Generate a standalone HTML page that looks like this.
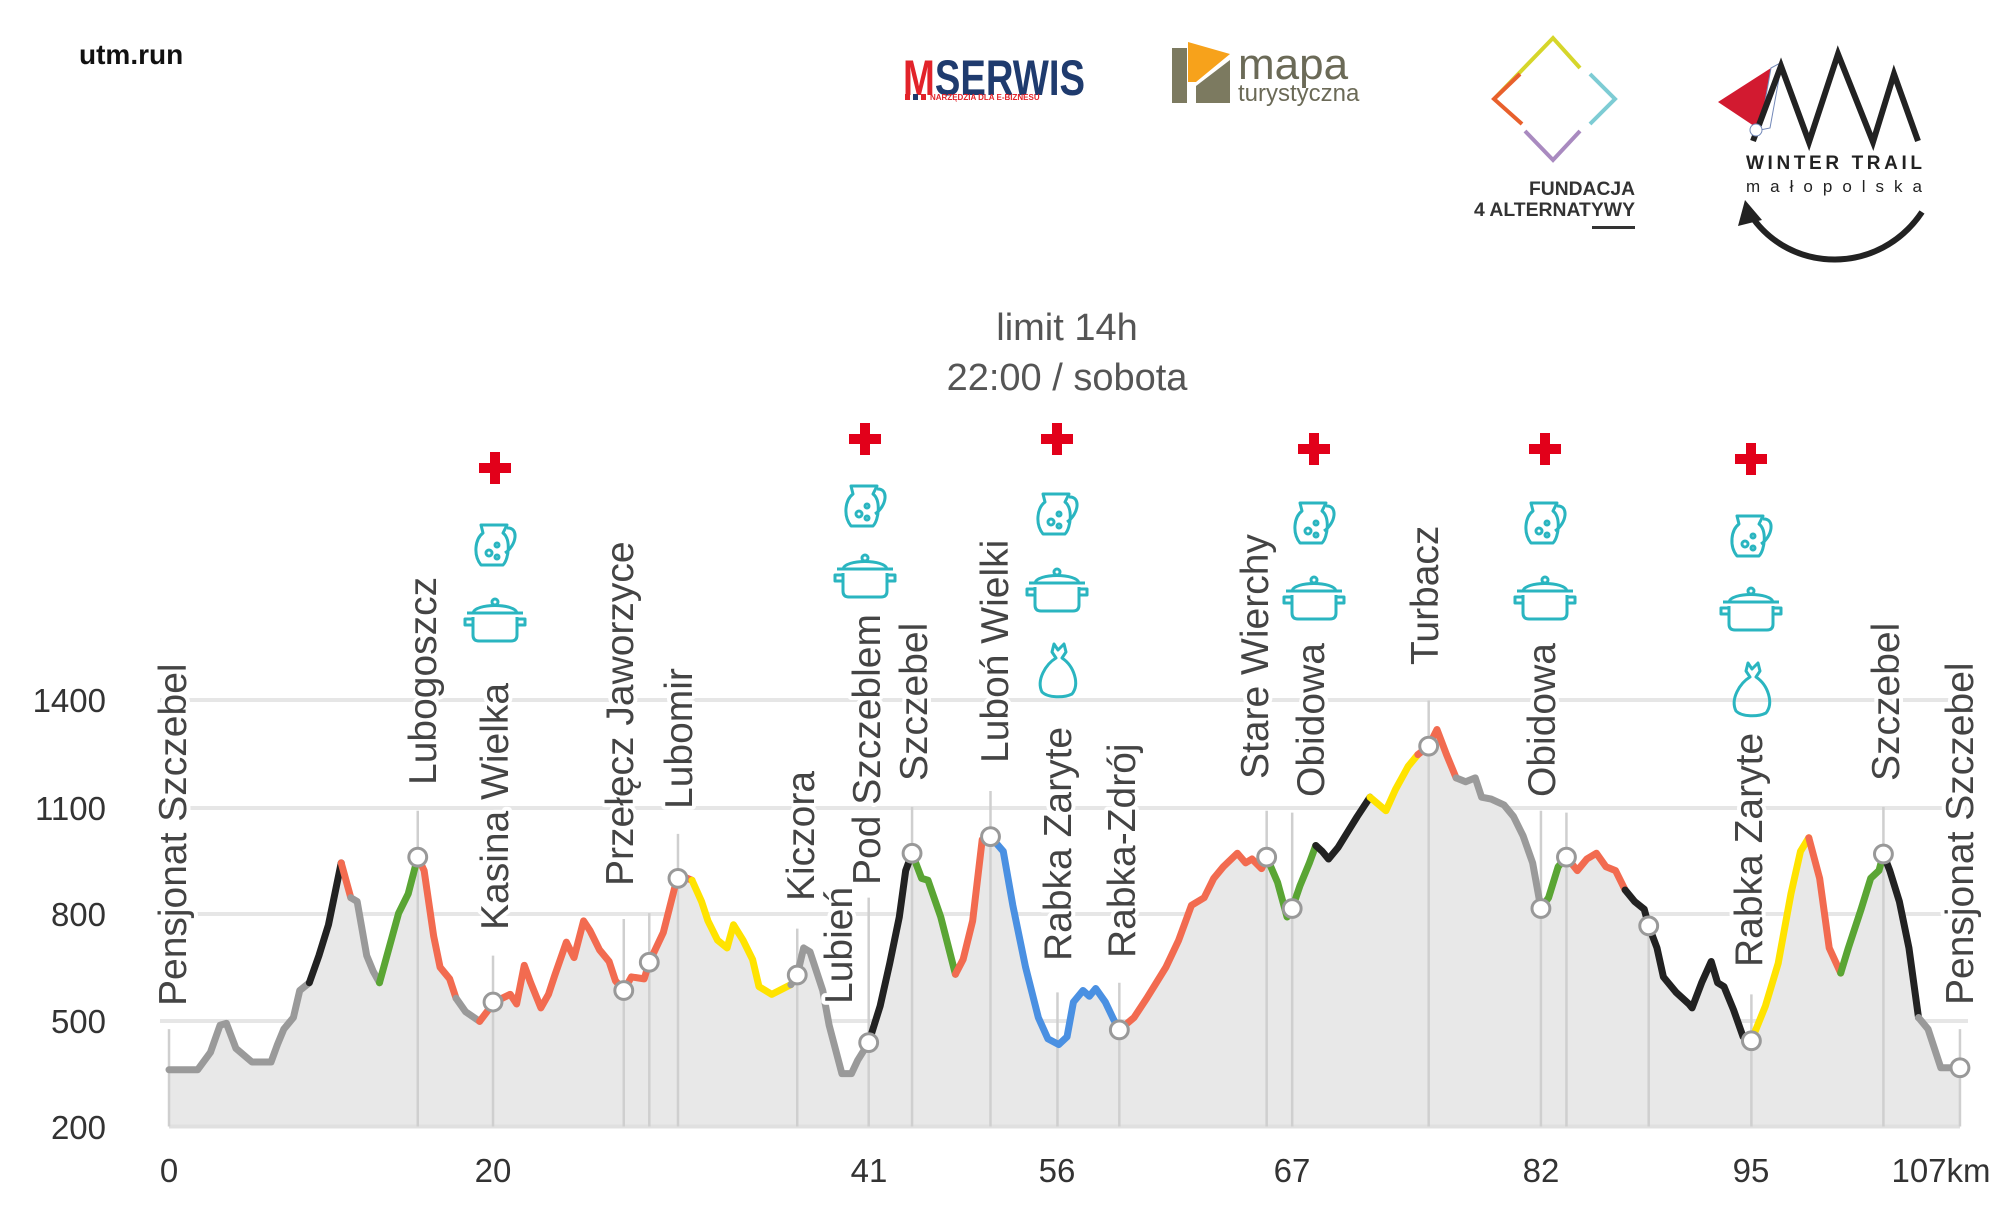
<!DOCTYPE html>
<html><head><meta charset="utf-8"><style>
html,body{margin:0;padding:0;background:#fff;}
svg{display:block;}
.lbl{font-family:"Liberation Sans",sans-serif;font-size:39px;fill:#444;stroke:#fff;stroke-width:8px;paint-order:stroke;stroke-linejoin:round;}
.ax{font-family:"Liberation Sans Narrow","Liberation Sans",sans-serif;font-size:33px;fill:#333;}
</style></head><body>
<svg width="2000" height="1206" viewBox="0 0 2000 1206" xmlns="http://www.w3.org/2000/svg">
<defs>
<g id="cross"><rect x="-16" y="-5" width="32" height="10" fill="#e2001a"/><rect x="-5" y="-16" width="10" height="32" fill="#e2001a"/></g>
<g id="jug" fill="none" stroke="#2ab5c0" stroke-width="3" stroke-linejoin="round">
<path d="M-14,-20 L12,-20 L8,-12 C16,-6 14,14 8,20 L-14,20 C-22,10 -20,-6 -12,-12 Z"/>
<path d="M12,-17 C24,-18 22,0 10,8"/><circle cx="-6" cy="8" r="3"/><circle cx="2" cy="0" r="2"/><circle cx="2" cy="12" r="2"/></g>
<g id="pot" fill="none" stroke="#2ab5c0" stroke-width="3" stroke-linejoin="round">
<path d="M-28,-6 L28,-6"/><path d="M-22,-6 C-20,-16 20,-16 22,-6"/><circle cx="0" cy="-17" r="3"/>
<path d="M-22,-2 L-22,16 C-22,20 -20,22 -16,22 L16,22 C20,22 22,20 22,16 L22,-2"/>
<path d="M-22,0 L-30,0 L-30,6 L-22,6 M22,0 L30,0 L30,6 L22,6"/></g>
<g id="bag" fill="none" stroke="#2ab5c0" stroke-width="3" stroke-linejoin="round">
<path d="M-6,-26 L-2,-20 L4,-26 L6,-18 L2,-12 C14,-4 20,14 12,24 C4,28 -12,28 -18,22 C-24,10 -14,-6 -4,-12 L-8,-18 Z"/></g>
</defs>

<!-- header -->
<text x="79" y="64" font-family="Liberation Sans,sans-serif" font-weight="bold" font-size="28" fill="#111">utm.run</text>
<text x="1067" y="340" text-anchor="middle" font-family="Liberation Sans,sans-serif" font-size="38" fill="#555">limit 14h</text>
<text x="1067" y="390" text-anchor="middle" font-family="Liberation Sans,sans-serif" font-size="38" fill="#555">22:00 / sobota</text>

<!-- MSERWIS -->
<text x="903" y="95" font-family="Liberation Sans Narrow,Liberation Sans,sans-serif" font-weight="bold" font-size="50" fill="#1f3b6e" textLength="182" lengthAdjust="spacingAndGlyphs"><tspan fill="#e2232a">M</tspan>SERWIS</text>
<rect x="905" y="94" width="5" height="6" fill="#e2232a"/><rect x="913" y="94" width="5" height="6" fill="#1f3b6e"/><rect x="921" y="94" width="5" height="6" fill="#e2232a"/>
<text x="930" y="100" font-family="Liberation Sans,sans-serif" font-weight="bold" font-size="8" fill="#e2232a">NARZĘDZIA DLA E-BIZNESU</text>
<!-- mapa -->
<rect x="1172" y="48" width="15" height="55" fill="#7c7a60"/>
<polygon points="1188,42 1230,54 1196,82 1188,82" fill="#f7a21b"/>
<polygon points="1196,86 1230,60 1230,103 1196,103" fill="#7c7a60"/>
<text x="1238" y="79" font-family="Liberation Sans,sans-serif" font-size="44" fill="#6b6a57">mapa</text>
<text x="1238" y="101" font-family="Liberation Sans,sans-serif" font-size="24" fill="#6b6a57">turystyczna</text>
<!-- fundacja -->
<g fill="none" stroke-width="4">
<path d="M1494,99 L1553,38 L1580,68" stroke="#d6d62a"/>
<path d="M1590,74 L1615,99 L1590,124" stroke="#7dccd4"/>
<path d="M1580,131 L1553,160 L1525,131" stroke="#a98ac0"/>
<path d="M1522,124 L1494,99 L1520,74" stroke="#e8602c"/>
</g>
<text x="1635" y="195" text-anchor="end" font-family="Liberation Sans Narrow,Liberation Sans,sans-serif" font-weight="bold" font-size="19" fill="#333" textLength="106" lengthAdjust="spacingAndGlyphs">FUNDACJA</text>
<text x="1635" y="216" text-anchor="end" font-family="Liberation Sans Narrow,Liberation Sans,sans-serif" font-weight="bold" font-size="19" fill="#333" textLength="161" lengthAdjust="spacingAndGlyphs">4 ALTERNATYWY</text>
<rect x="1592" y="226" width="43" height="3" fill="#333"/>
<!-- winter trail -->
<polygon points="1718,102 1771,68 1760,130" fill="#d21a30"/>
<polygon points="1771,68 1782,62 1770,128 1760,130" fill="#fff" stroke="#7288b8" stroke-width="1"/>
<polyline points="1753,141 1781,66 1809,142 1838,54 1873,142 1894,74 1918,141" fill="none" stroke="#222" stroke-width="6"/>
<circle cx="1756" cy="130" r="6" fill="#fff" stroke="#7288b8"/>
<text x="1834" y="169" text-anchor="middle" font-family="Liberation Sans,sans-serif" font-weight="bold" font-size="19" fill="#222" textLength="176" lengthAdjust="spacing">WINTER TRAIL</text>
<text x="1834" y="192" text-anchor="middle" font-family="Liberation Sans,sans-serif" font-size="17" fill="#222" textLength="176" lengthAdjust="spacing">małopolska</text>
<path d="M1750,214 C1790,275 1880,275 1922,212" fill="none" stroke="#222" stroke-width="6"/>
<polygon points="1745,200 1738,226 1762,220" fill="#222"/>

<!-- gridlines -->
<g stroke="#e6e6e6" stroke-width="4">
<line x1="160" y1="700" x2="1968" y2="700"/><line x1="160" y1="808" x2="1968" y2="808"/>
<line x1="160" y1="914" x2="1968" y2="914"/><line x1="160" y1="1021" x2="1968" y2="1021"/>
</g>
<g class="ax" text-anchor="end">
<text x="106" y="712">1400</text><text x="106" y="820">1100</text><text x="106" y="926">800</text><text x="106" y="1033">500</text><text x="106" y="1139">200</text>
</g>
<g class="ax" text-anchor="middle">
<text x="169" y="1182">0</text><text x="493" y="1182">20</text><text x="869" y="1182">41</text><text x="1057" y="1182">56</text><text x="1292" y="1182">67</text><text x="1541" y="1182">82</text><text x="1751" y="1182">95</text><text x="1941" y="1182">107km</text>
</g>

<g transform="translate(0,600) scale(0.6378,0.3866)">
<polygon fill="#e8e8e8" points="265,1362 265,1215 310,1215 330,1170 345,1100 355,1095 370,1160 395,1195 425,1195 435,1150 445,1110 460,1080 470,1010 485,990 500,920 515,840 535,680 550,770 560,780 575,920 585,960 595,990 610,900 625,810 640,760 655,665 665,700 680,870 690,950 705,980 715,1030 730,1065 752,1090 775,1040 800,1020 810,1045 822,945 832,990 848,1055 860,1020 870,970 888,885 900,925 915,830 925,855 940,905 955,935 965,985 978,1010 990,975 1010,980 1018,937 1040,860 1060,730 1070,715 1085,725 1100,780 1110,830 1125,880 1140,900 1150,840 1165,880 1180,930 1190,1000 1210,1020 1240,995 1250,970 1260,900 1270,910 1290,1010 1300,1100 1320,1225 1335,1225 1345,1190 1362,1145 1380,1050 1395,940 1410,820 1420,700 1430,655 1445,720 1455,725 1475,820 1498,968 1510,930 1525,830 1540,620 1553,612 1573,650 1588,790 1608,950 1628,1080 1643,1135 1660,1150 1673,1130 1683,1040 1698,1010 1708,1025 1718,1005 1733,1040 1746,1085 1755,1112 1778,1080 1798,1030 1813,990 1828,950 1848,880 1868,790 1888,770 1903,720 1918,690 1940,655 1953,680 1963,670 1978,695 1986,665 2003,730 2018,820 2026,798 2038,740 2053,680 2063,635 2073,650 2083,670 2098,640 2113,600 2128,560 2148,510 2173,545 2188,490 2208,430 2223,400 2240,378 2253,335 2268,400 2283,460 2298,470 2313,460 2323,510 2338,515 2358,530 2373,560 2388,610 2403,680 2416,798 2428,770 2443,690 2456,665 2473,700 2488,670 2503,655 2518,690 2533,700 2548,750 2563,780 2578,800 2585,843 2598,900 2608,975 2628,1015 2648,1045 2653,1055 2668,990 2683,935 2693,990 2703,1000 2718,1060 2733,1130 2746,1140 2768,1050 2788,940 2808,760 2823,650 2836,615 2853,720 2868,900 2886,965 2898,900 2918,800 2933,720 2946,700 2953,657 2963,700 2978,780 2993,900 3008,1080 3023,1110 3043,1210 3073,1210 3073,1362"/>
<line x1="265" y1="1362" x2="3073" y2="1362" stroke="#e0e0e0" stroke-width="4" vector-effect="non-scaling-stroke"/>
<g stroke="#cfcfcf" stroke-width="2.5">
<line vector-effect="non-scaling-stroke" x1="265" y1="1362" x2="265" y2="1110"/>
<line vector-effect="non-scaling-stroke" x1="655" y1="1362" x2="655" y2="545"/>
<line vector-effect="non-scaling-stroke" x1="773" y1="1362" x2="773" y2="920"/>
<line vector-effect="non-scaling-stroke" x1="978" y1="1362" x2="978" y2="825"/>
<line vector-effect="non-scaling-stroke" x1="1018" y1="1362" x2="1018" y2="810"/>
<line vector-effect="non-scaling-stroke" x1="1063" y1="1362" x2="1063" y2="605"/>
<line vector-effect="non-scaling-stroke" x1="1250" y1="1362" x2="1250" y2="850"/>
<line vector-effect="non-scaling-stroke" x1="1362" y1="1362" x2="1362" y2="770"/>
<line vector-effect="non-scaling-stroke" x1="1430" y1="1362" x2="1430" y2="535"/>
<line vector-effect="non-scaling-stroke" x1="1553" y1="1362" x2="1553" y2="494"/>
<line vector-effect="non-scaling-stroke" x1="1658" y1="1362" x2="1658" y2="1015"/>
<line vector-effect="non-scaling-stroke" x1="1755" y1="1362" x2="1755" y2="990"/>
<line vector-effect="non-scaling-stroke" x1="1986" y1="1362" x2="1986" y2="545"/>
<line vector-effect="non-scaling-stroke" x1="2026" y1="1362" x2="2026" y2="550"/>
<line vector-effect="non-scaling-stroke" x1="2240" y1="1362" x2="2240" y2="260"/>
<line vector-effect="non-scaling-stroke" x1="2416" y1="1362" x2="2416" y2="545"/>
<line vector-effect="non-scaling-stroke" x1="2456" y1="1362" x2="2456" y2="550"/>
<line vector-effect="non-scaling-stroke" x1="2585" y1="1362" x2="2585" y2="850"/>
<line vector-effect="non-scaling-stroke" x1="2746" y1="1362" x2="2746" y2="1020"/>
<line vector-effect="non-scaling-stroke" x1="2953" y1="1362" x2="2953" y2="535"/>
<line vector-effect="non-scaling-stroke" x1="3073" y1="1362" x2="3073" y2="1110"/>
</g>
<g fill="none" stroke-width="7" stroke-linejoin="round" stroke-linecap="round">
<polyline vector-effect="non-scaling-stroke" stroke="#9a9a9a" points="265,1215 310,1215 330,1170 345,1100 355,1095 370,1160 395,1195 425,1195 435,1150 445,1110 460,1080 470,1010 485,990"/>
<polyline vector-effect="non-scaling-stroke" stroke="#222" points="485,990 500,920 515,840 535,680"/>
<polyline vector-effect="non-scaling-stroke" stroke="#f26b50" points="535,680 550,770"/>
<polyline vector-effect="non-scaling-stroke" stroke="#9a9a9a" points="550,770 560,780 575,920 585,960 595,990"/>
<polyline vector-effect="non-scaling-stroke" stroke="#5aa534" points="595,990 610,900 625,810 640,760 655,665"/>
<polyline vector-effect="non-scaling-stroke" stroke="#f26b50" points="655,665 665,700 680,870 690,950 705,980 715,1030"/>
<polyline vector-effect="non-scaling-stroke" stroke="#9a9a9a" points="715,1030 730,1065 752,1090"/>
<polyline vector-effect="non-scaling-stroke" stroke="#f26b50" points="752,1090 775,1040 800,1020 810,1045 822,945 832,990 848,1055 860,1020 870,970 888,885 900,925 915,830 925,855 940,905 955,935 965,985 978,1010 990,975 1010,980 1018,937 1040,860 1060,730 1070,715 1085,725"/>
<polyline vector-effect="non-scaling-stroke" stroke="#ffe300" points="1085,725 1100,780 1110,830 1125,880 1140,900 1150,840 1165,880 1180,930 1190,1000 1210,1020 1240,995"/>
<polyline vector-effect="non-scaling-stroke" stroke="#9a9a9a" points="1240,995 1250,970 1260,900 1270,910 1290,1010 1300,1100 1320,1225 1335,1225 1345,1190 1362,1145"/>
<polyline vector-effect="non-scaling-stroke" stroke="#222" points="1362,1145 1380,1050 1395,940 1410,820 1420,700 1430,655"/>
<polyline vector-effect="non-scaling-stroke" stroke="#5aa534" points="1430,655 1445,720 1455,725 1475,820 1498,968"/>
<polyline vector-effect="non-scaling-stroke" stroke="#f26b50" points="1498,968 1510,930 1525,830 1540,620 1553,612"/>
<polyline vector-effect="non-scaling-stroke" stroke="#4a90e2" points="1553,612 1573,650 1588,790 1608,950 1628,1080 1643,1135 1660,1150 1673,1130 1683,1040 1698,1010 1708,1025 1718,1005 1733,1040 1746,1085 1755,1112"/>
<polyline vector-effect="non-scaling-stroke" stroke="#f26b50" points="1755,1112 1778,1080 1798,1030 1813,990 1828,950 1848,880 1868,790 1888,770 1903,720 1918,690 1940,655 1953,680 1963,670 1978,695 1986,665"/>
<polyline vector-effect="non-scaling-stroke" stroke="#5aa534" points="1986,665 2003,730 2018,820 2026,798 2038,740 2053,680 2063,635"/>
<polyline vector-effect="non-scaling-stroke" stroke="#222" points="2063,635 2073,650 2083,670 2098,640 2113,600 2128,560 2148,510"/>
<polyline vector-effect="non-scaling-stroke" stroke="#ffe300" points="2148,510 2173,545 2188,490 2208,430 2223,400"/>
<polyline vector-effect="non-scaling-stroke" stroke="#f26b50" points="2223,400 2240,378 2253,335 2268,400 2283,460"/>
<polyline vector-effect="non-scaling-stroke" stroke="#9a9a9a" points="2283,460 2298,470 2313,460 2323,510 2338,515 2358,530 2373,560 2388,610 2403,680 2416,798"/>
<polyline vector-effect="non-scaling-stroke" stroke="#5aa534" points="2416,798 2428,770 2443,690 2456,665"/>
<polyline vector-effect="non-scaling-stroke" stroke="#f26b50" points="2456,665 2473,700 2488,670 2503,655 2518,690 2533,700 2548,750"/>
<polyline vector-effect="non-scaling-stroke" stroke="#222" points="2548,750 2563,780 2578,800 2585,843 2598,900 2608,975 2628,1015 2648,1045 2653,1055 2668,990 2683,935 2693,990 2703,1000 2718,1060 2733,1130 2746,1140"/>
<polyline vector-effect="non-scaling-stroke" stroke="#ffe300" points="2746,1140 2768,1050 2788,940 2808,760 2823,650 2836,615"/>
<polyline vector-effect="non-scaling-stroke" stroke="#f26b50" points="2836,615 2853,720 2868,900 2886,965"/>
<polyline vector-effect="non-scaling-stroke" stroke="#5aa534" points="2886,965 2898,900 2918,800 2933,720 2946,700 2953,657"/>
<polyline vector-effect="non-scaling-stroke" stroke="#222" points="2953,657 2963,700 2978,780 2993,900 3008,1080"/>
<polyline vector-effect="non-scaling-stroke" stroke="#9a9a9a" points="3008,1080 3023,1110 3043,1210 3073,1210"/>
</g>
<g fill="#fff" stroke="#999" stroke-width="3">
<ellipse vector-effect="non-scaling-stroke" cx="655" cy="665" rx="14" ry="23"/>
<ellipse vector-effect="non-scaling-stroke" cx="773" cy="1040" rx="14" ry="23"/>
<ellipse vector-effect="non-scaling-stroke" cx="978" cy="1010" rx="14" ry="23"/>
<ellipse vector-effect="non-scaling-stroke" cx="1018" cy="937" rx="14" ry="23"/>
<ellipse vector-effect="non-scaling-stroke" cx="1063" cy="720" rx="14" ry="23"/>
<ellipse vector-effect="non-scaling-stroke" cx="1250" cy="970" rx="14" ry="23"/>
<ellipse vector-effect="non-scaling-stroke" cx="1362" cy="1145" rx="14" ry="23"/>
<ellipse vector-effect="non-scaling-stroke" cx="1430" cy="655" rx="14" ry="23"/>
<ellipse vector-effect="non-scaling-stroke" cx="1553" cy="612" rx="14" ry="23"/>
<ellipse vector-effect="non-scaling-stroke" cx="1755" cy="1112" rx="14" ry="23"/>
<ellipse vector-effect="non-scaling-stroke" cx="1986" cy="665" rx="14" ry="23"/>
<ellipse vector-effect="non-scaling-stroke" cx="2026" cy="798" rx="14" ry="23"/>
<ellipse vector-effect="non-scaling-stroke" cx="2240" cy="378" rx="14" ry="23"/>
<ellipse vector-effect="non-scaling-stroke" cx="2416" cy="798" rx="14" ry="23"/>
<ellipse vector-effect="non-scaling-stroke" cx="2456" cy="665" rx="14" ry="23"/>
<ellipse vector-effect="non-scaling-stroke" cx="2585" cy="843" rx="14" ry="23"/>
<ellipse vector-effect="non-scaling-stroke" cx="2746" cy="1140" rx="14" ry="23"/>
<ellipse vector-effect="non-scaling-stroke" cx="2953" cy="657" rx="14" ry="23"/>
<ellipse vector-effect="non-scaling-stroke" cx="3073" cy="1210" rx="14" ry="23"/>
</g>
</g>

<!-- labels -->
<g class="lbl">
<text transform="translate(186,1006) rotate(-90)">Pensjonat Szczebel</text>
<text transform="translate(436,785) rotate(-90)">Lubogoszcz</text>
<text transform="translate(508,930) rotate(-90)">Kasina Wielka</text>
<text transform="translate(633,886) rotate(-90)">Przełęcz Jaworzyce</text>
<text transform="translate(692,809) rotate(-90)">Lubomir</text>
<text transform="translate(814,901) rotate(-90)">Kiczora</text>
<text transform="translate(852,1004) rotate(-90)">Lubień</text>
<text transform="translate(880,885) rotate(-90)">Pod Szczeblem</text>
<text transform="translate(927,781) rotate(-90)">Szczebel</text>
<text transform="translate(1008,763) rotate(-90)">Luboń Wielki</text>
<text transform="translate(1071,961) rotate(-90)">Rabka Zaryte</text>
<text transform="translate(1135,958) rotate(-90)">Rabka-Zdrój</text>
<text transform="translate(1268,779) rotate(-90)">Stare Wierchy</text>
<text transform="translate(1324,797) rotate(-90)">Obidowa</text>
<text transform="translate(1438,665) rotate(-90)">Turbacz</text>
<text transform="translate(1555,797) rotate(-90)">Obidowa</text>
<text transform="translate(1762,967) rotate(-90)">Rabka Zaryte</text>
<text transform="translate(1899,781) rotate(-90)">Szczebel</text>
<text transform="translate(1973,1005) rotate(-90)">Pensjonat Szczebel</text>
</g>

<!-- icons -->
<use href="#cross" x="495" y="468"/><use href="#jug" x="495" y="545"/><use href="#pot" x="495" y="619"/>
<use href="#cross" x="865" y="439"/><use href="#jug" x="865" y="506"/><use href="#pot" x="865" y="575"/>
<use href="#cross" x="1057" y="439"/><use href="#jug" x="1057" y="514"/><use href="#pot" x="1057" y="589"/><use href="#bag" x="1060" y="670"/>
<use href="#cross" x="1314" y="449"/><use href="#jug" x="1314" y="523"/><use href="#pot" x="1314" y="597"/>
<use href="#cross" x="1545" y="449"/><use href="#jug" x="1545" y="523"/><use href="#pot" x="1545" y="597"/>
<use href="#cross" x="1751" y="459"/><use href="#jug" x="1751" y="536"/><use href="#pot" x="1751" y="608"/><use href="#bag" x="1754" y="689"/>
</svg>
</body></html>
